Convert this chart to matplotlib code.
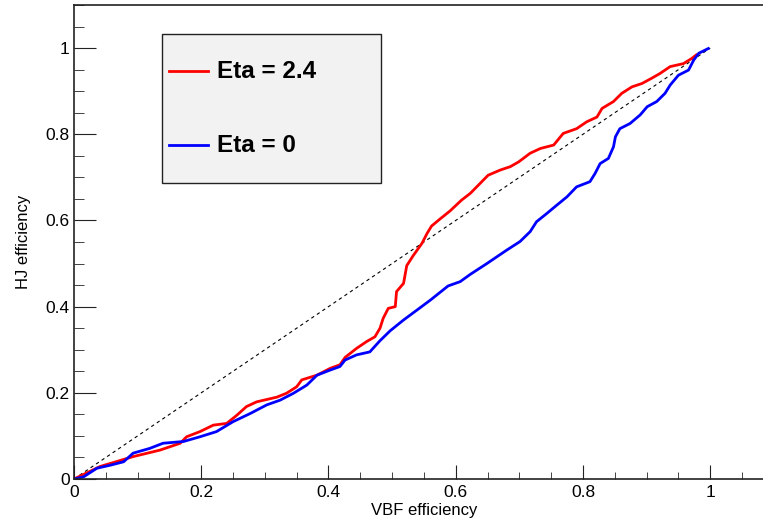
import numpy as np
import matplotlib
matplotlib.use('Agg')
import matplotlib.pyplot as plt
from matplotlib.patches import Rectangle
from matplotlib.lines import Line2D
from matplotlib.ticker import MultipleLocator

plt.rcParams['font.family'] = ['Liberation Sans', 'DejaVu Sans']

# VBF efficiency (x) vs HJ efficiency (y)
eta24_x = [0.0, 0.041, 0.093, 0.135, 0.167, 0.177, 0.198, 0.219, 0.240, 0.256, 0.271, 0.287,
           0.319, 0.334, 0.350, 0.358, 0.382, 0.403, 0.418, 0.426, 0.444, 0.460, 0.473, 0.481,
           0.486, 0.494, 0.505, 0.507, 0.518, 0.523, 0.533, 0.547, 0.555, 0.562, 0.575, 0.591,
           0.609, 0.623, 0.633, 0.651, 0.670, 0.686, 0.699, 0.717, 0.733, 0.754, 0.769, 0.790,
           0.806, 0.822, 0.830, 0.848, 0.861, 0.877, 0.893, 0.908, 0.921, 0.937, 0.958, 0.971,
           0.978]
eta24_y = [0.0, 0.029, 0.052, 0.067, 0.083, 0.098, 0.110, 0.125, 0.129, 0.148, 0.168, 0.179,
           0.190, 0.199, 0.214, 0.230, 0.241, 0.257, 0.265, 0.282, 0.303, 0.319, 0.330, 0.350,
           0.373, 0.396, 0.400, 0.435, 0.454, 0.495, 0.518, 0.547, 0.570, 0.587, 0.603, 0.622,
           0.647, 0.663, 0.678, 0.705, 0.717, 0.725, 0.736, 0.756, 0.767, 0.775, 0.802, 0.813,
           0.829, 0.840, 0.860, 0.876, 0.895, 0.910, 0.918, 0.930, 0.941, 0.957, 0.964, 0.976,
           0.984]

eta0_x = [0.0, 0.015, 0.036, 0.057, 0.078, 0.093, 0.119, 0.140, 0.172, 0.198, 0.224, 0.250,
          0.277, 0.303, 0.324, 0.345, 0.366, 0.382, 0.403, 0.418, 0.426, 0.444, 0.465, 0.481,
          0.497, 0.518, 0.539, 0.560, 0.588, 0.607, 0.623, 0.649, 0.680, 0.701, 0.717, 0.727,
          0.743, 0.756, 0.775, 0.790, 0.811, 0.819, 0.827, 0.840, 0.848, 0.851, 0.858, 0.874,
          0.890, 0.901, 0.916, 0.929, 0.937, 0.950, 0.966, 0.974, 0.982, 0.997]
eta0_y = [0.0, 0.005, 0.025, 0.032, 0.040, 0.060, 0.071, 0.083, 0.087, 0.098, 0.110, 0.133,
          0.152, 0.172, 0.183, 0.199, 0.218, 0.241, 0.253, 0.261, 0.276, 0.288, 0.295, 0.321,
          0.344, 0.369, 0.392, 0.415, 0.448, 0.458, 0.475, 0.500, 0.531, 0.551, 0.574, 0.597,
          0.616, 0.632, 0.655, 0.678, 0.690, 0.709, 0.732, 0.744, 0.771, 0.794, 0.813, 0.825,
          0.845, 0.864, 0.876, 0.895, 0.914, 0.937, 0.949, 0.972, 0.988, 0.999]

labels = ['Eta = 2.4', 'Eta = 0']
colors = ['#ff0000', '#0000ff']

W, H = 763, 522
fig = plt.figure(figsize=(W / 100, H / 100), dpi=100)
ax = fig.add_axes([74 / W, 1 - 479 / H, 1 - 74 / W, (479 - 5) / H])

ax.plot([0, 1], [0, 1], color='black', ls=(0, (3, 3)), lw=0.8)
ax.plot(eta24_x, eta24_y, color=colors[0], lw=2.0)
ax.plot(eta0_x, eta0_y, color=colors[1], lw=2.0)

ax.set_xlim(0, 1.083)
ax.set_ylim(0, 1.1)
ax.xaxis.set_major_locator(MultipleLocator(0.2))
ax.xaxis.set_minor_locator(MultipleLocator(0.05))
ax.yaxis.set_major_locator(MultipleLocator(0.2))
ax.yaxis.set_minor_locator(MultipleLocator(0.05))
ax.xaxis.set_major_formatter(plt.FuncFormatter(lambda v, p: '%g' % round(v, 2)))
ax.yaxis.set_major_formatter(plt.FuncFormatter(lambda v, p: '%g' % round(v, 2)))
ax.tick_params(axis='both', which='both', direction='in', labelsize=12.5, color='#222222')
ax.tick_params(axis='x', which='major', length=10, pad=4)
ax.tick_params(axis='x', which='minor', length=5)
ax.tick_params(axis='y', which='major', length=15.5, pad=3)
ax.tick_params(axis='y', which='minor', length=7.5)
ax.tick_params(top=False, right=False, which='both')
for s in ['left', 'bottom', 'top']:
    ax.spines[s].set_color('#222222')
    ax.spines[s].set_linewidth(1.2)
ax.spines['right'].set_visible(False)

fig.text(424 / W, 1 - 511 / H, 'VBF efficiency', ha='center', va='center', fontsize=12)
fig.text(24 / W, 1 - 242 / H, 'HJ efficiency', ha='center', va='center', rotation=90, fontsize=12)

# legend box
fig.patches.append(Rectangle((162 / W, 1 - 183 / H), (381 - 162) / W, (183 - 34) / H,
                             transform=fig.transFigure, facecolor='#f2f2f2',
                             edgecolor='#222222', lw=1.0, zorder=5))
for i, (lab, c) in enumerate(zip(labels, colors)):
    yy = 1 - (71 + 74 * i) / H
    fig.lines.append(Line2D([169 / W, 208 / W], [yy, yy], transform=fig.transFigure,
                            color=c, lw=2.0, zorder=6))
    fig.text(217 / W, yy, lab, ha='left', va='center', fontsize=17.5,
             fontweight='bold', zorder=7)

fig.savefig('out.png', dpi=100)
